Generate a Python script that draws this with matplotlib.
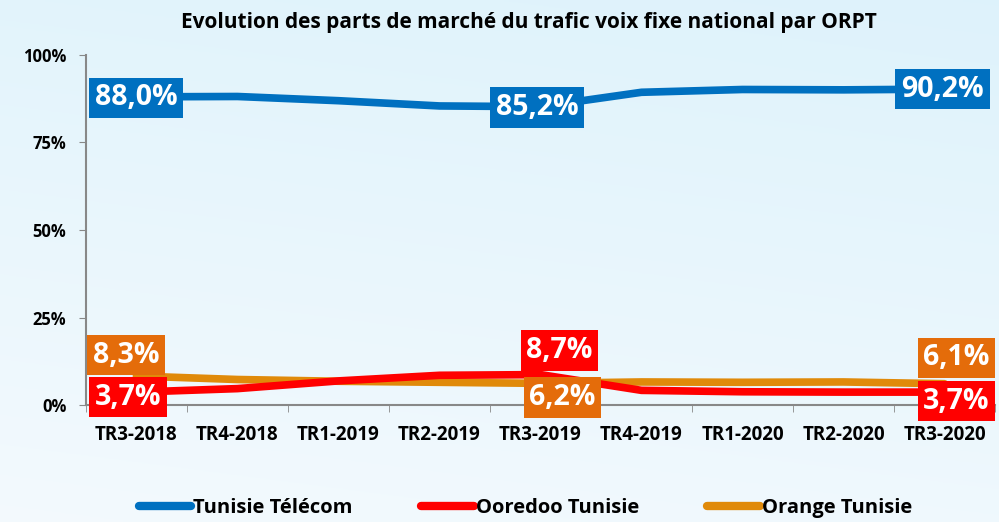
import numpy as np
import matplotlib
matplotlib.use('Agg')
import matplotlib.pyplot as plt
from matplotlib.lines import Line2D

plt.rcParams['font.family'] = ['Open Sans', 'DejaVu Sans']

categories = ['TR3-2018', 'TR4-2018', 'TR1-2019', 'TR2-2019', 'TR3-2019',
              'TR4-2019', 'TR1-2020', 'TR2-2020', 'TR3-2020']
tt = [88.0, 88.1, 86.9, 85.4, 85.2, 89.3, 90.1, 90.0, 90.2]
ooredoo = [3.7, 4.7, 6.9, 8.5, 8.7, 4.2, 3.8, 3.7, 3.7]
orange = [8.3, 7.3, 6.8, 6.5, 6.2, 6.6, 6.5, 6.6, 6.1]
series_names = ['Tunisie Télécom', 'Ooredoo Tunisie', 'Orange Tunisie']

C_TT = '#0070C0'
C_OO = '#FF0000'
C_OR = '#E08A0A'
C_OR_BOX = '#E46C0A'

fig = plt.figure(figsize=(9.99, 5.22), dpi=100)

# background gradient, bluish at the top, almost white at the bottom
bg = fig.add_axes([0, 0, 1, 1], zorder=-10)
yy, xx = np.mgrid[0:1:200j, 0:1:200j]
t = np.clip(0.8 * yy + 0.2 * xx, 0, 1)
top = np.array([0.87, 0.95, 0.985])
bot = np.array([0.955, 0.98, 0.995])
img = bot + (top - bot) * t[..., None]
bg.imshow(img, extent=[0, 1, 0, 1], aspect='auto', origin='lower')
bg.axis('off')

ax = fig.add_axes([0.086, 0.224, 0.91, 0.671])
ax.patch.set_alpha(0)
x = np.arange(len(categories))

ax.plot(x, orange, color=C_OR, lw=5.5, solid_capstyle='round', zorder=3)
ax.plot(x, ooredoo, color=C_OO, lw=5.5, solid_capstyle='round', zorder=4)
ax.plot(x, tt, color=C_TT, lw=5.5, solid_capstyle='round', zorder=5)

ax.set_xlim(-0.5, len(categories) - 0.5)
ax.set_ylim(0, 100)
ax.set_yticks([0, 25, 50, 75, 100])
ax.set_yticklabels(['0%', '25%', '50%', '75%', '100%'], fontsize=12, fontweight='bold')
ax.set_xticks(x)
ax.set_xticklabels(categories, fontsize=13.5, fontweight='bold')
ax.set_xticks(np.arange(len(categories) + 1) - 0.5, minor=True)
ax.tick_params(axis='x', which='major', length=0, pad=14)
ax.tick_params(axis='x', which='minor', length=5, color='#888888', direction='out')
ax.tick_params(axis='y', length=5, color='#888888', pad=9)
for s in ['top', 'right']:
    ax.spines[s].set_visible(False)
for s in ['left', 'bottom']:
    ax.spines[s].set_color('#888888')
    ax.spines[s].set_linewidth(1.5)

def lab(i, vals, color, dx, dy):
    ax.annotate(f'{vals[i]:.1f}%'.replace('.', ','), (x[i], vals[i]),
                xytext=(dx, dy), textcoords='offset pixels',
                ha='center', va='center', fontsize=20.5, fontweight='bold',
                color='white', zorder=10,
                bbox=dict(boxstyle='square,pad=0.2', fc=color, ec='none'))

lab(0, tt, C_TT, 0, -1)
lab(4, tt, C_TT, -3, -1)
lab(8, tt, C_TT, -2, 0)
lab(0, orange, C_OR_BOX, -10, 21)
lab(0, ooredoo, C_OO, -8, -5)
lab(4, ooredoo, C_OO, 19, 24)
lab(4, orange, C_OR_BOX, 22, -14)
lab(8, orange, C_OR_BOX, 12, 26)
lab(8, ooredoo, C_OO, 12, -9)

fig.text(0.529, 0.957, 'Evolution des parts de marché du trafic voix fixe national par ORPT',
         ha='center', va='center', fontsize=15, fontweight='bold')

handles = [Line2D([], [], color=c, lw=6, solid_capstyle='round')
           for c in (C_TT, C_OO, C_OR)]
fig.legend(handles, series_names, loc='lower center', bbox_to_anchor=(0.526, -0.027),
           ncol=3, frameon=False, handlelength=2.6, handletextpad=0.1,
           columnspacing=3.4, prop={'weight': 'bold', 'size': 14.5})

fig.savefig('out.png', dpi=100)
